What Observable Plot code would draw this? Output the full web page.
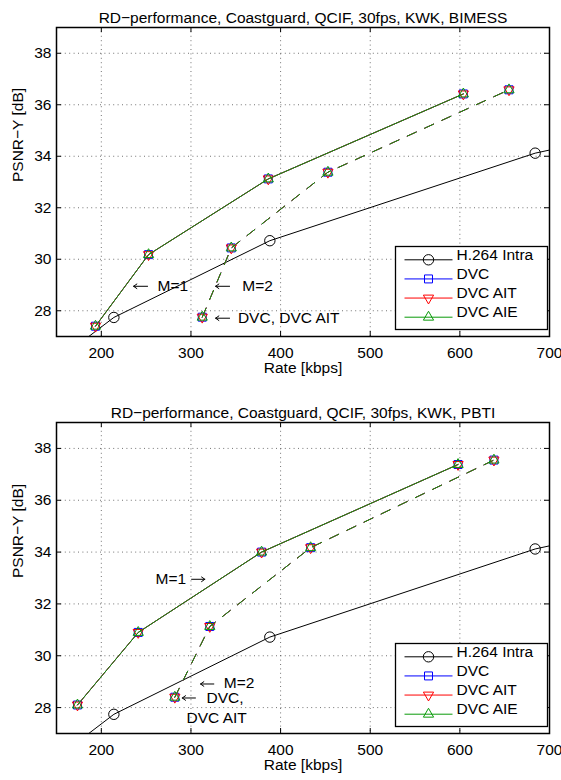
<!DOCTYPE html>
<html><head><meta charset="utf-8">
<script src="https://cdn.jsdelivr.net/npm/d3@7"></script>
<script src="https://cdn.jsdelivr.net/npm/@observablehq/plot@0.6"></script>
<style>
html,body{margin:0;padding:0;background:#fff;}
#chart svg{display:block;}
</style></head><body><div id="chart"></div>
<script>
// ---- axes ----
const xTicks = [200, 300, 400, 500, 600, 700];
const yTicks = [28, 30, 32, 34, 36, 38];
const xDomain = [150, 700];
const yDomain = [27, 39];

// ---- series (shared by both charts) ----
const seriesNames = ["H.264 Intra", "DVC", "DVC AIT", "DVC AIE"];
const seriesColors = ["#000000", "#0000ff", "#ff0000", "#0a9a0a"];
const seriesSymbols = ["circle", "square", "triangle", "triangle"];

// H.264 Intra (same in both charts; first/last points lie outside the axes)
const intraRate = [150, 214, 388, 684, 1000];
const intraPsnr = [26.05, 27.74, 30.72, 34.12, 36.5];

// Chart 1: BIMESS
const bimessM1Rate = [193.5, 252.7, 386.3, 603.9];
const bimessM1Psnr = [27.4, 30.18, 33.12, 36.42];
const bimessM2Rate = [312.6, 345, 452.8, 654.8];
const bimessM2Psnr = [27.75, 30.44, 33.38, 36.58];

// Chart 2: PBTI
const pbtiM1Rate = [173.4, 241.2, 378.8, 598];
const pbtiM1Psnr = [28.1, 30.9, 34.0, 37.38];
const pbtiM2Rate = [282, 321, 433.5, 638];
const pbtiM2Psnr = [28.4, 31.13, 34.17, 37.55];

// annotations (data coordinates, like MATLAB text())
const bimessNotes = [
  {x: 262.7, y: 28.95, text: "M=1"},
  {x: 357.3, y: 28.95, text: "M=2"},
  {x: 352.4, y: 27.71, text: "DVC, DVC AIT"}
];
// arrows: tail -> head
const bimessArrows = [
  {tail: 251.6, head: 236, y: 28.95},
  {tail: 343.1, head: 327.5, y: 28.95},
  {tail: 343.1, head: 327.5, y: 27.71}
];
const pbtiNotes = [
  {x: 260.5, y: 32.95, text: "M=1"},
  {x: 336.7, y: 28.93, text: "M=2"},
  {x: 317.4, y: 28.35, text: "DVC,"},
  {x: 295, y: 27.58, text: "DVC AIT"}
];
const pbtiArrows = [
  {tail: 300.7, head: 315.5, y: 32.95},
  {tail: 325.5, head: 310.7, y: 28.91},
  {tail: 305, head: 290.3, y: 28.37}
];

const FONT = "'Liberation Sans', Arial, Helvetica, sans-serif";
const FS = 15.5;
const hline = {draw(ctx) { ctx.moveTo(-24, 0); ctx.lineTo(24, 0); }};

function rows(rate, psnr) { return rate.map((r, i) => ({r, p: psnr[i]})); }

function chart({title, m1Rate, m1Psnr, m2Rate, m2Psnr, notes, arrows, height, marginTop, marginBottom}) {
  const W = 561, ml = 56, mr = 12;
  const fh = height - marginTop - marginBottom, fw = W - ml - mr;
  const marks = [];
  // grid
  marks.push(Plot.ruleX(xTicks, {stroke: "#000", strokeOpacity: 0.55, strokeDasharray: "1,3.4"}));
  marks.push(Plot.ruleY(yTicks, {stroke: "#000", strokeOpacity: 0.55, strokeDasharray: "1,3.4"}));
  // inward ticks
  marks.push(Plot.tickX(xTicks, {x: d => d, insetTop: fh - 5, stroke: "#000"}));
  marks.push(Plot.tickX(xTicks, {x: d => d, insetBottom: fh - 5, stroke: "#000"}));
  marks.push(Plot.tickY(yTicks, {y: d => d, insetRight: fw - 5, stroke: "#000"}));
  marks.push(Plot.tickY(yTicks, {y: d => d, insetLeft: fw - 5, stroke: "#000"}));
  // tick labels
  marks.push(Plot.axisX(xTicks, {tickSize: 0, tickPadding: 10, label: null, fontSize: FS, fill: "#000"}));
  marks.push(Plot.axisY(yTicks, {tickSize: 0, tickPadding: 5, label: null, fontSize: FS, fill: "#000"}));
  // H.264 Intra
  const intra = rows(intraRate, intraPsnr);
  marks.push(Plot.line(intra, {x: "r", y: "p", stroke: seriesColors[0], strokeWidth: 1, clip: true}));
  marks.push(Plot.dot(intra, {x: "r", y: "p", symbol: "circle", r: 5.2, stroke: seriesColors[0], fill: "none", strokeWidth: 1, clip: true}));
  // DVC variants
  const m1 = rows(m1Rate, m1Psnr), m2 = rows(m2Rate, m2Psnr);
  for (let k = 1; k < 4; k++) {
    const c = seriesColors[k];
    marks.push(Plot.line(m1, {x: "r", y: "p", stroke: c, strokeWidth: 1, clip: true}));
    marks.push(Plot.line(m2, {x: "r", y: "p", stroke: c, strokeWidth: 1, strokeDasharray: "10,9", clip: true}));
    marks.push(Plot.dot(m1.concat(m2), {
      x: "r", y: "p", symbol: seriesSymbols[k], r: k === 1 ? 4.5 : 3.8,
      rotate: k === 2 ? 180 : 0, stroke: c, fill: "none", strokeWidth: 1, clip: true
    }));
  }
  // annotations
  marks.push(Plot.text(notes, {x: "x", y: "y", text: "text", textAnchor: "start", fontSize: FS, fill: "#000"}));
  marks.push(Plot.arrow(arrows, {x1: "tail", x2: "head", y1: "y", y2: "y", stroke: "#000", strokeWidth: 1, headLength: 6, headAngle: 70}));
  // legend
  marks.push(Plot.frame({insetLeft: fw - 2 - 152, insetTop: fh - 7 - 83, insetRight: 2, insetBottom: 7, fill: "#fff", stroke: "#000", strokeWidth: 1.3}));
  for (let k = 0; k < 4; k++) {
    const dy = -(76.7 - 19.13 * k);
    const c = seriesColors[k];
    marks.push(Plot.dot([0], {frameAnchor: "bottom-right", dx: -121, dy, symbol: hline, r: 5, stroke: c, fill: "none", strokeWidth: 1}));
    marks.push(Plot.dot([0], {frameAnchor: "bottom-right", dx: -121, dy, symbol: seriesSymbols[k],
      r: k === 0 ? 5.2 : k === 1 ? 4.5 : 3.8, rotate: k === 2 ? 180 : 0, stroke: c, fill: "none", strokeWidth: 1}));
    marks.push(Plot.text([seriesNames[k]], {frameAnchor: "bottom-right", dx: -93, dy, text: d => d, textAnchor: "start", fontSize: FS, fill: "#000"}));
  }
  // titles and labels
  marks.push(Plot.text([title], {frameAnchor: "top", dy: -15.5, text: d => d, fontSize: FS, fill: "#000"}));
  marks.push(Plot.text(["Rate [kbps]"], {frameAnchor: "bottom", dy: 36.5, text: d => d, fontSize: FS, fill: "#000"}));
  marks.push(Plot.text(["PSNR\u2212Y [dB]"], {frameAnchor: "left", dx: -38, rotate: -90, text: d => d, fontSize: FS, fill: "#000"}));
  // box
  marks.push(Plot.frame({stroke: "#000", strokeWidth: 1.5}));

  return Plot.plot({
    width: W, height, marginLeft: ml, marginRight: mr, marginTop, marginBottom,
    x: {domain: xDomain, axis: null},
    y: {domain: yDomain, axis: null},
    style: {fontFamily: FONT, fontSize: FS + "px", background: "#fff", color: "#000"},
    marks
  });
}

const root = document.getElementById("chart");
root.appendChild(chart({
  title: "RD\u2212performance, Coastguard, QCIF, 30fps, KWK, BIMESS",
  m1Rate: bimessM1Rate, m1Psnr: bimessM1Psnr, m2Rate: bimessM2Rate, m2Psnr: bimessM2Psnr,
  notes: bimessNotes, arrows: bimessArrows, height: 390, marginTop: 27, marginBottom: 54
}));
root.appendChild(chart({
  title: "RD\u2212performance, Coastguard, QCIF, 30fps, KWK, PBTI",
  m1Rate: pbtiM1Rate, m1Psnr: pbtiM1Psnr, m2Rate: pbtiM2Rate, m2Psnr: pbtiM2Psnr,
  notes: pbtiNotes, arrows: pbtiArrows, height: 390, marginTop: 32, marginBottom: 47
}));
</script></body></html>
